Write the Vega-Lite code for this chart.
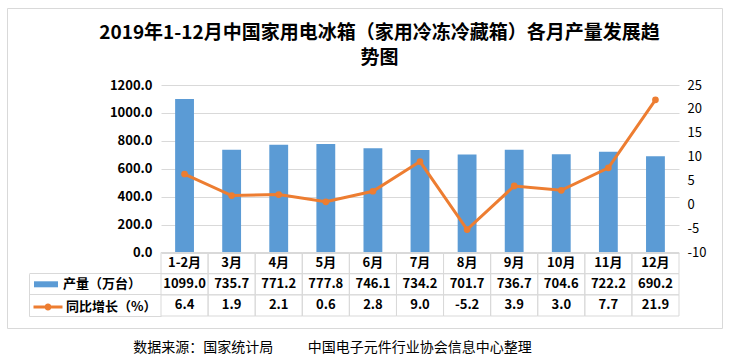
{
  "$schema": "https://vega.github.io/schema/vega-lite/v6.json",
  "width": 715,
  "height": 320,
  "autosize": {"type": "none"},
  "padding": {"left": 7, "top": 8, "right": 7, "bottom": 34},
  "background": "white",
  "config": {
    "view": {"stroke": "#d9d9d9", "strokeWidth": 1},
    "font": "Noto Sans CJK SC",
    "locale": {"number": {"decimal": ".", "thousands": ",", "grouping": [3], "currency": ["", ""], "minus": "-"}}
  },
  "title": {
    "text": ["2019年1-12月中国家用电冰箱（家用冷冻冷藏箱）各月产量发展趋", "势图"],
    "fontSize": 19,
    "fontWeight": "bold",
    "color": "#000000",
    "anchor": "middle",
    "frame": "group",
    "baseline": "top",
    "offset": 0,
    "dy": 60,
    "dx": 15,
    "lineHeight": 25
  },
  "data": {
    "values": [
      {"month": "1-2月", "prod": 1099.0, "growth": 6.4},
      {"month": "3月", "prod": 735.7, "growth": 1.9},
      {"month": "4月", "prod": 771.2, "growth": 2.1},
      {"month": "5月", "prod": 777.8, "growth": 0.6},
      {"month": "6月", "prod": 746.1, "growth": 2.8},
      {"month": "7月", "prod": 734.2, "growth": 9.0},
      {"month": "8月", "prod": 701.7, "growth": -5.2},
      {"month": "9月", "prod": 736.7, "growth": 3.9},
      {"month": "10月", "prod": 704.6, "growth": 3.0},
      {"month": "11月", "prod": 722.2, "growth": 7.7},
      {"month": "12月", "prod": 690.2, "growth": 21.9}
    ]
  },
  "encoding": {
    "x": {
      "field": "month",
      "type": "nominal",
      "sort": null,
      "scale": {"type": "band", "range": [154, 672], "paddingInner": 0, "paddingOuter": 0},
      "axis": {
        "labels": false,
        "ticks": false,
        "domain": false,
        "grid": false,
        "title": "数据来源：国家统计局\u3000\u3000\u00a0\u00a0中国电子元件行业协会信息中心整理",
        "titleX": 325,
        "titleY": 19,
        "titleAnchor": "middle",
        "titleAlign": "center",
        "titleBaseline": "middle",
        "titleFontSize": 14,
        "titleFontWeight": "normal",
        "titleColor": "#000000"
      }
    }
  },
  "layer": [
    {
      "mark": {"type": "bar", "width": {"band": 0.4}},
      "encoding": {
        "y": {
          "field": "prod",
          "type": "quantitative",
          "scale": {"domain": [0, 1200], "range": [244.5, 77], "nice": false, "zero": true},
          "axis": {
            "orient": "left",
            "offset": -154,
            "values": [0, 200, 400, 600, 800, 1000, 1200],
            "format": ".1f",
            "grid": true,
            "gridColor": "#d9d9d9",
            "gridWidth": 1,
            "domain": false,
            "ticks": false,
            "tickSize": 0,
            "labelPadding": 9,
            "labelFontSize": 13,
            "labelFontWeight": "bold",
            "labelColor": "#000000",
            "title": null
          }
        },
        "fill": {
          "datum": "产量（万台）",
          "scale": {"range": ["#5b9bd5"]},
          "legend": {
            "orient": "none",
            "legendX": 27,
            "legendY": 264.3,
            "title": null,
            "padding": 0,
            "symbolType": "M-1,-0.25H1V0.25H-1Z",
            "symbolSize": 576,
            "symbolStrokeWidth": 0,
            "labelOffset": 5,
            "labelFontSize": 13,
            "labelFontWeight": "bold",
            "labelColor": "#000000"
          }
        }
      }
    },
    {
      "layer": [
        {
          "mark": {"type": "line", "strokeWidth": 3},
          "encoding": {
            "y": {
              "field": "growth",
              "type": "quantitative",
              "scale": {"domain": [-10, 25], "range": [244.5, 77], "nice": false, "zero": false},
              "axis": {
                "orient": "right",
                "offset": -43,
                "values": [-10, -5, 0, 5, 10, 15, 20, 25],
                "grid": false,
                "domain": false,
                "ticks": false,
                "tickSize": 0,
                "labelPadding": 8,
                "labelFontSize": 13,
                "labelColor": "#000000",
                "title": null
              }
            },
            "stroke": {
              "datum": "同比增长（%）",
              "scale": {"range": ["#ed7d31"]},
              "legend": {
                "orient": "none",
                "legendX": 25,
                "legendY": 283,
                "title": null,
                "padding": 0,
                "symbolType": "M-1,0H1M0.14,0A0.14,0.14 0 1 1 -0.14,0A0.14,0.14 0 1 1 0.14,0",
                "symbolSize": 841,
                "symbolStrokeWidth": 3,
                "labelOffset": 2,
                "labelFontSize": 13,
                "labelFontWeight": "bold",
                "labelColor": "#000000"
              }
            }
          }
        },
        {
          "mark": {"type": "point", "filled": true, "size": 45, "color": "#ed7d31", "opacity": 1},
          "encoding": {
            "y": {"field": "growth", "type": "quantitative"}
          }
        }
      ]
    },
    {
      "layer": [
        {
          "transform": [{"fold": ["month", "prod", "growth"], "as": ["row", "val"]}],
          "mark": {"type": "rect", "fill": "white", "fillOpacity": 0, "stroke": "#d9d9d9", "strokeWidth": 1},
          "encoding": {
            "y": {
              "field": "row",
              "type": "nominal",
              "scale": {"type": "band", "domain": ["month", "prod", "growth"], "range": [244.5, 308], "paddingInner": 0, "paddingOuter": 0},
              "axis": {
                "orient": "left",
                "offset": -22,
                "labels": false,
                "grid": false,
                "domain": true,
                "domainColor": "#d9d9d9",
                "domainDash": [0, 21.17, 42.33, 0],
                "ticks": true,
                "tickColor": "#d9d9d9",
                "tickSize": -132,
                "bandPosition": 1,
                "title": null
              }
            }
          }
        },
        {
          "mark": {"type": "text", "fontSize": 13, "fontWeight": "bold", "color": "#000000"},
          "encoding": {
            "y": {"datum": "month", "type": "nominal"},
            "text": {"field": "month", "type": "nominal"}
          }
        },
        {
          "mark": {"type": "text", "fontSize": 13, "fontWeight": "bold", "color": "#000000"},
          "encoding": {
            "y": {"datum": "prod", "type": "nominal"},
            "text": {"field": "prod", "type": "quantitative", "format": ".1f"}
          }
        },
        {
          "mark": {"type": "text", "fontSize": 13, "fontWeight": "bold", "color": "#000000"},
          "encoding": {
            "y": {"datum": "growth", "type": "nominal"},
            "text": {"field": "growth", "type": "quantitative", "format": ".1f"}
          }
        }
      ]
    }
  ],
  "resolve": {"scale": {"y": "independent"}, "axis": {"y": "independent"}}
}
